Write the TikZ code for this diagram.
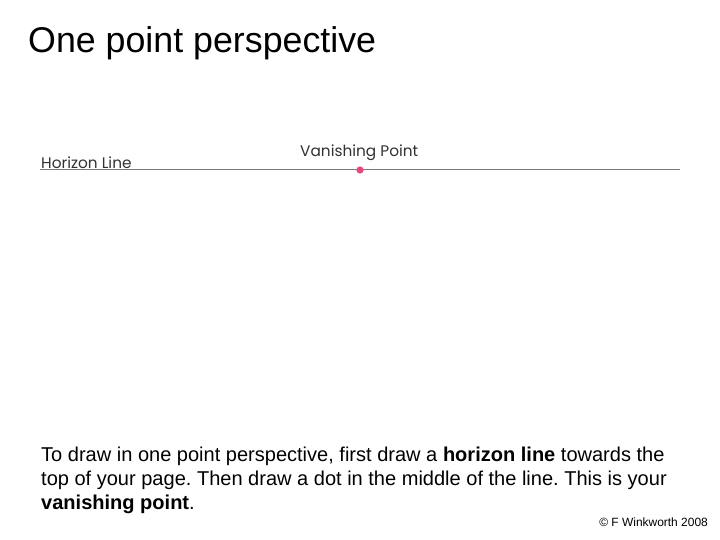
\documentclass[tikz,border=0pt]{standalone}
\usepackage{fontspec}
\setmainfont{Liberation Sans}
\newfontfamily\gothic{Poppins}
\definecolor{vpink}{RGB}{232,70,125}
\definecolor{hline}{RGB}{120,120,120}
\definecolor{labelgray}{RGB}{50,50,50}
\begin{document}
\frenchspacing
\begin{tikzpicture}[x=1bp,y=-1bp,
  lbl/.style={inner sep=0pt, anchor=base west, text=labelgray, font=\gothic\fontsize{15.4}{17}\selectfont}]
\useasboundingbox[fill=white] (0,0) rectangle (720,540);
\node[anchor=base west, inner sep=0pt, font=\fontsize{35.9}{40}\selectfont] (title) at (28,53) {One point perspective};
\coordinate (hl) at (40,169);
\coordinate (hr) at (680,169);
\draw[hline, line width=0.9pt] (hl) -- (hr);
\node[lbl] (hlab) at (41,169) {Horizon Line};
\node[lbl] (vplab) at (300,157) {Vanishing Point};
\fill[vpink] (360,170) circle (3.6) node (vp) {};
\node[anchor=base west, inner sep=0pt, align=left, font=\fontsize{20.1}{24}\selectfont] (body) at (41,509)
 {To draw in one point perspective, first draw a \textbf{horizon line} towards the\\
  top of your page. Then draw a dot in the middle of the line. This is your\\
  \textbf{vanishing point}.};
\node[anchor=base east, inner sep=0pt, font=\fontsize{12}{14}\selectfont] (copy) at (708,526) {\textcopyright{} F Winkworth 2008};
\end{tikzpicture}
\end{document}
